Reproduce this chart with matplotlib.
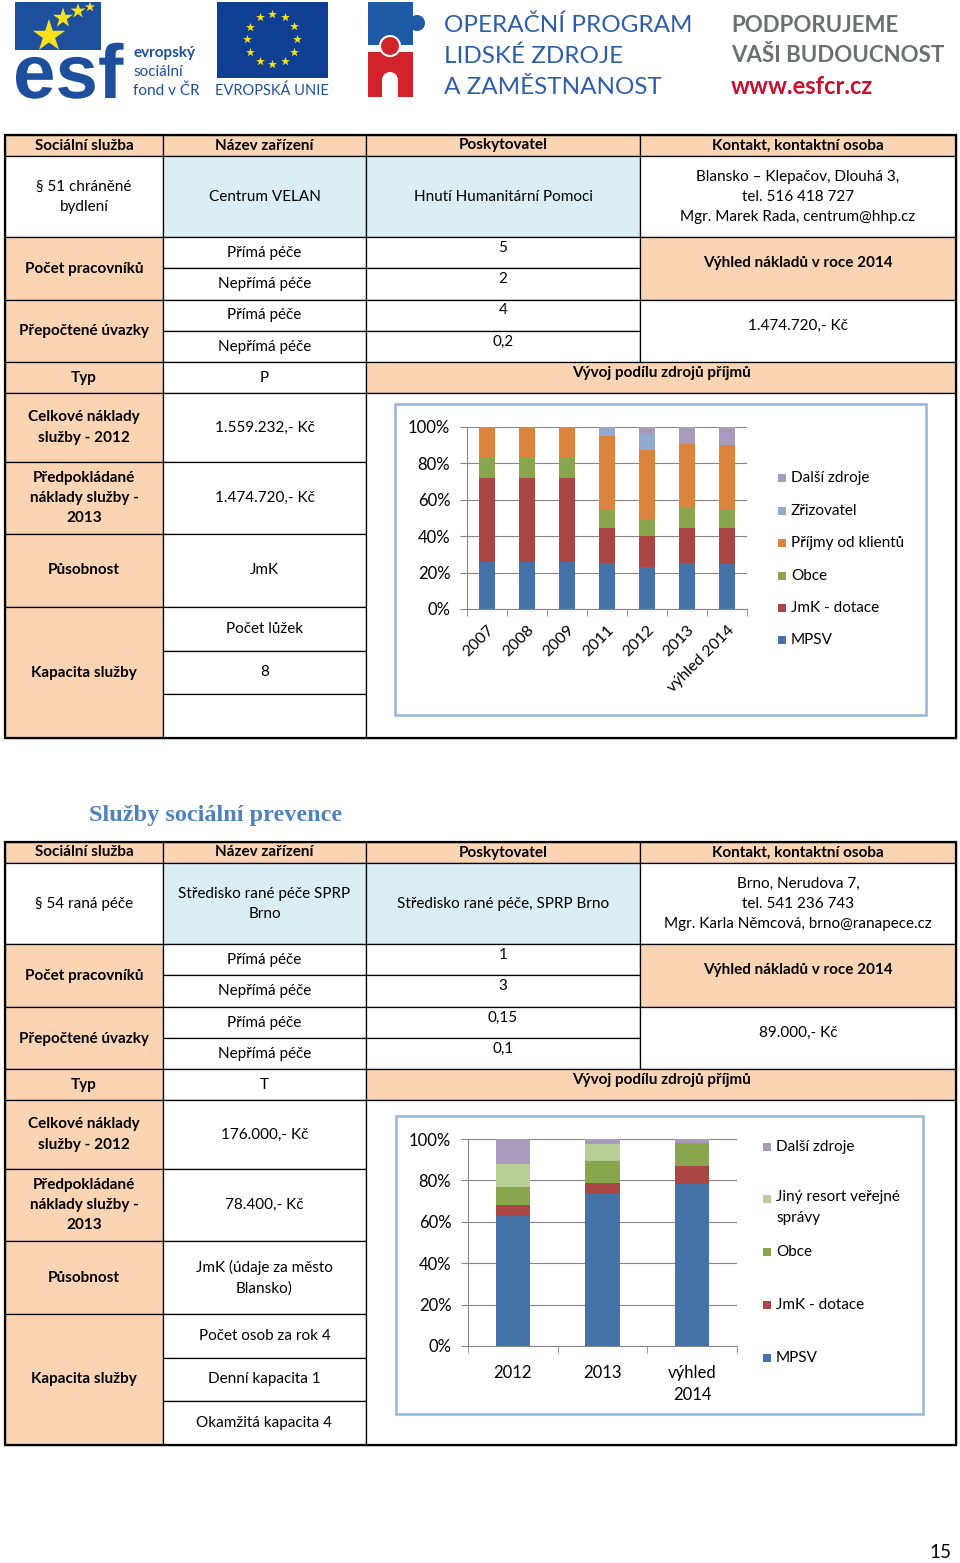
import matplotlib
matplotlib.use("Agg")
import matplotlib.pyplot as plt
from matplotlib.patches import Rectangle, Circle
import matplotlib.patheffects as pe
import numpy as np

plt.rcParams["font.family"] = ["Lato", "DejaVu Sans"]

ORANGE = "#FBD4B4"
BLUE_CELL = "#DAEEF3"
FRAME = "#95B3D7"
GRID = "#868686"

# --- data, chart 1 (chráněné bydlení) ---
years1 = ["2007", "2008", "2009", "2011", "2012", "2013", "výhled 2014"]
mpsv1 = [25.7, 25.7, 25.7, 25.0, 23.1, 25.0, 24.8]
jmk1 = [46.2, 46.2, 46.2, 19.6, 17.1, 19.6, 19.8]
obce1 = [11.4, 11.4, 11.4, 10.3, 9.5, 10.8, 9.9]
klienti1 = [16.7, 16.7, 16.7, 40.0, 37.5, 35.4, 35.4]
zrizovatel1 = [0, 0, 0, 5.1, 8.9, 0, 0]
dalsi1 = [0, 0, 0, 0, 3.9, 9.2, 10.1]
series1_names = ["MPSV", "JmK - dotace", "Obce", "Příjmy od klientů", "Zřizovatel", "Další zdroje"]
series1_colors = ["#4572A7", "#AA4643", "#89A54E", "#DB843D", "#93A9CF", "#A99BBD"]

# --- data, chart 2 (raná péče) ---
years2 = ["2012", "2013", "výhled\n2014"]
mpsv2 = [62.9, 73.7, 78.1]
jmk2 = [5.2, 5.0, 8.8]
obce2 = [8.8, 10.5, 11.3]
jiny2 = [11.2, 8.4, 0]
dalsi2 = [11.9, 2.4, 1.8]
series2_names = ["MPSV", "JmK - dotace", "Obce", "Jiný resort veřejné\nsprávy", "Další zdroje"]
series2_colors = ["#4572A7", "#AA4643", "#89A54E", "#B9CD96", "#A99BBD"]

pct_ticks = [0, 20, 40, 60, 80, 100]

# --- table texts ---
headers = ["Sociální služba", "Název zařízení", "Poskytovatel", "Kontakt, kontaktní osoba"]
table1 = {
    "sluzba": "§ 51 chráněné\nbydlení",
    "zarizeni": "Centrum VELAN",
    "poskytovatel": "Hnutí Humanitární Pomoci",
    "kontakt": "Blansko – Klepačov, Dlouhá 3,\ntel. 516 418 727\nMgr. Marek Rada, centrum@hhp.cz",
    "pracovnici": ["5", "2"],
    "uvazky": ["4", "0,2"],
    "vyhled": "1.474.720,- Kč",
    "typ": "P",
    "naklady2012": "1.559.232,- Kč",
    "naklady2013": "1.474.720,- Kč",
    "pusobnost": "JmK",
    "kapacita": ["Počet lůžek", "8", ""],
}
table2 = {
    "sluzba": "§ 54 raná péče",
    "zarizeni": "Středisko rané péče SPRP\nBrno",
    "poskytovatel": "Středisko rané péče, SPRP Brno",
    "kontakt": "Brno, Nerudova 7,\ntel. 541 236 743\nMgr. Karla Němcová, brno@ranapece.cz",
    "pracovnici": ["1", "3"],
    "uvazky": ["0,15", "0,1"],
    "vyhled": "89.000,- Kč",
    "typ": "T",
    "naklady2012": "176.000,- Kč",
    "naklady2013": "78.400,- Kč",
    "pusobnost": "JmK (údaje za město\nBlansko)",
    "kapacita": ["Počet osob za rok 4", "Denní kapacita 1", "Okamžitá kapacita 4"],
}

W, H = 960, 1563
fig = plt.figure(figsize=(W / 100, H / 100), dpi=100)
page = fig.add_axes([0, 0, 1, 1])
page.set_xlim(0, W)
page.set_ylim(H, 0)
page.axis("off")


def cell(x0, y0, x1, y1, fill="white", lw=0.9):
    page.add_patch(Rectangle((x0, y0), x1 - x0, y1 - y0, facecolor=fill,
                             edgecolor="black", lw=lw, zorder=1))


def txt(x, y, s, bold=False, size=11, **kw):
    page.text(x, y, s, ha=kw.pop("ha", "center"), va="center", fontsize=size,
              fontweight="bold" if bold else "normal", linespacing=1.55,
              zorder=3, **kw)


def draw_table(t, y0):
    c = [5, 163, 366, 640, 956]
    mid = [(c[i] + c[i + 1]) / 2 for i in range(4)]
    # header
    for i in range(4):
        cell(c[i], y0, c[i + 1], y0 + 21, ORANGE)
        txt(mid[i], y0 + 10.5, headers[i], bold=True)
    r = y0 + 21
    cell(c[0], r, c[1], r + 81)
    cell(c[1], r, c[2], r + 81, BLUE_CELL)
    cell(c[2], r, c[3], r + 81, BLUE_CELL)
    cell(c[3], r, c[4], r + 81)
    txt(mid[0], r + 41, t["sluzba"])
    txt(mid[1], r + 41, t["zarizeni"])
    txt(mid[2], r + 41, t["poskytovatel"])
    txt(mid[3], r + 41, t["kontakt"])
    # workers / FTE
    r = y0 + 102
    for k, (label, key) in enumerate([("Počet pracovníků", "pracovnici"),
                                      ("Přepočtené úvazky", "uvazky")]):
        ry = r + k * 62.5
        cell(c[0], ry, c[1], ry + 62.5, ORANGE)
        txt(mid[0], ry + 32, label, bold=True)
        for j, sub in enumerate(["Přímá péče", "Nepřímá péče"]):
            sy = ry + j * 31.25
            cell(c[1], sy, c[2], sy + 31.25)
            cell(c[2], sy, c[3], sy + 31.25)
            txt(mid[1], sy + 16, sub)
            txt(mid[2], sy + 11, t[key][j])
    cell(c[3], r, c[4], r + 62.5, ORANGE)
    txt(mid[3], r + 26, "Výhled nákladů v roce 2014", bold=True)
    cell(c[3], r + 62.5, c[4], r + 125)
    txt(mid[3], r + 89, t["vyhled"])
    # type row
    r = y0 + 227
    cell(c[0], r, c[1], r + 31, ORANGE)
    cell(c[1], r, c[2], r + 31)
    cell(c[2], r, c[4], r + 31, ORANGE)
    txt(mid[0], r + 16, "Typ", bold=True)
    txt(mid[1], r + 16, t["typ"])
    txt(661, r + 11, "Vývoj podílu zdrojů příjmů", bold=True)
    # lower block
    r = y0 + 258
    bounds = [r, r + 69, r + 141, r + 214, r + 345]
    labels = ["Celkové náklady\nslužby - 2012", "Předpokládané\nnáklady služby -\n2013",
              "Působnost", "Kapacita služby"]
    vals = [t["naklady2012"], t["naklady2013"], t["pusobnost"]]
    for i in range(4):
        cell(c[0], bounds[i], c[1], bounds[i + 1], ORANGE)
        txt(mid[0], (bounds[i] + bounds[i + 1]) / 2, labels[i], bold=True)
    for i in range(3):
        cell(c[1], bounds[i], c[2], bounds[i + 1])
        txt(mid[1], (bounds[i] + bounds[i + 1]) / 2, vals[i])
    step = (bounds[4] - bounds[3]) / 3
    for j in range(3):
        sy = bounds[3] + j * step
        cell(c[1], sy, c[2], sy + step)
        txt(mid[1], sy + step / 2, t["kapacita"][j])
    cell(c[2], bounds[0], c[4], bounds[4])
    page.add_patch(Rectangle((c[0], y0), c[4] - c[0], bounds[4] - y0, fill=False,
                             edgecolor="black", lw=1.6, zorder=2))


draw_table(table1, 135)
draw_table(table2, 842)

txt(89, 815, "Služby sociální prevence", bold=True, size=17.5, ha="left",
    color="#4F81BD", family="Liberation Serif")
txt(940, 1553, "15", size=13.5)

# --- logos ---
page.add_patch(Rectangle((15, 2), 86, 48, facecolor="#1D4F9C", lw=0, zorder=1))
page.text(13, 98, "esf", fontsize=55, fontweight="bold", color="#1D4F9C",
          family="Liberation Sans", va="baseline", ha="left", zorder=2,
          path_effects=[pe.withStroke(linewidth=3, foreground="white")])
page.scatter([49, 63, 78, 90], [36, 18, 11, 7], s=[600, 230, 130, 60], marker="*",
             color="#F5E11C", zorder=3, lw=0)
for i, s in enumerate(["evropský", "sociální", "fond v ČR"]):
    page.text(133, 53 + i * 19, s, fontsize=11, color="#1D4F9C",
              fontweight="bold" if i == 0 else "normal", va="center", zorder=3)
page.add_patch(Rectangle((217, 2), 111, 76, facecolor="#0E3F93", lw=0, zorder=1))
ang = np.arange(12) * np.pi / 6
page.scatter(272 + 25 * np.cos(ang), 39 + 25 * np.sin(ang), s=45, marker="*",
             color="#F5E11C", zorder=3, lw=0)
page.text(272, 91, "EVROPSKÁ UNIE", fontsize=10.5, color="#1D4F9C", ha="center",
          va="center", zorder=3)
page.add_patch(Rectangle((368, 2), 45, 43, facecolor="#1F5AA6", lw=0, zorder=1))
page.add_patch(Circle((417, 23), 8, facecolor="#1F5AA6", lw=0, zorder=1))
page.add_patch(Rectangle((368, 52), 45, 45, facecolor="#D2232A", lw=0, zorder=1))
page.add_patch(Circle((390, 46), 10, facecolor="#D2232A", edgecolor="white", lw=1.5, zorder=2))
page.add_patch(Circle((390, 80), 8, facecolor="white", lw=0, zorder=3))
page.add_patch(Rectangle((382, 80), 16, 17, facecolor="white", lw=0, zorder=3))
for i, s in enumerate(["OPERAČNÍ PROGRAM", "LIDSKÉ ZDROJE", "A ZAMĚSTNANOST"]):
    page.text(444, 25 + i * 31, s, fontsize=17.5, color="#2F5EA9",
              va="center", ha="left", zorder=3)
for i, s in enumerate(["PODPORUJEME", "VAŠI BUDOUCNOST"]):
    page.text(731, 25 + i * 31, s, fontsize=16, color="#6D6E70",
              fontweight="bold", va="center", ha="left", zorder=3)
page.text(731, 87, "www.esfcr.cz", fontsize=17, color="#C8102E",
          fontweight="bold", va="center", ha="left", zorder=3)


def chart(box, frame, series, names, colors, cats, legend_x, legend_ys, rot):
    x0, y0, x1, y1 = box
    page.add_patch(Rectangle((frame[0], frame[1]), frame[2] - frame[0],
                             frame[3] - frame[1], fill=False, edgecolor=FRAME,
                             lw=1.8, zorder=2))
    ax = fig.add_axes([x0 / W, 1 - y1 / H, (x1 - x0) / W, (y1 - y0) / H])
    ax.set_facecolor("none")
    pos = np.arange(len(cats))
    bottom = np.zeros(len(cats))
    for vals, col in zip(series, colors):
        ax.bar(pos, vals, width=0.38, bottom=bottom, color=col, zorder=2)
        bottom += np.array(vals)
    ax.set_xlim(-0.5, len(cats) - 0.5)
    ax.set_ylim(0, 100)
    ax.set_yticks(pct_ticks)
    ax.set_yticklabels([f"{v}%" for v in pct_ticks], fontsize=12)
    ax.yaxis.grid(True, color=GRID, lw=0.8, zorder=0)
    for s in ["top", "right"]:
        ax.spines[s].set_visible(False)
    for s in ["left", "bottom"]:
        ax.spines[s].set_color(GRID)
    ax.tick_params(axis="y", length=5, color=GRID, pad=7)
    ax.set_xticks(pos)
    if rot:
        ax.set_xticklabels(cats, fontsize=11.5, rotation=45, ha="right",
                           va="top", rotation_mode="anchor")
        ax.tick_params(axis="x", which="major", length=0, pad=10)
    else:
        ax.set_xticklabels(cats, fontsize=12, linespacing=1.45)
        ax.tick_params(axis="x", which="major", length=0, pad=14)
    ax.set_xticks(np.arange(len(cats) + 1) - 0.5, minor=True)
    ax.tick_params(axis="x", which="minor", length=5, color=GRID)
    # legend, top entry first
    for name, col, ly in zip(names[::-1], colors[::-1], legend_ys):
        page.add_patch(Rectangle((legend_x, ly - 4), 8, 8, facecolor=col, lw=0, zorder=3))
        page.text(legend_x + 13, ly + (-9 if "\n" in name else 0), name, fontsize=11,
                  va="top" if "\n" in name else "center", ha="left",
                  linespacing=1.6, zorder=3)
    return ax


chart((467, 427, 747, 609), (395, 404, 926, 715),
      [mpsv1, jmk1, obce1, klienti1, zrizovatel1, dalsi1],
      series1_names, series1_colors, years1, 778,
      [478, 511, 543, 576, 608, 640], True)
chart((468, 1139, 737, 1346), (396, 1116, 923, 1414),
      [mpsv2, jmk2, obce2, jiny2, dalsi2],
      series2_names, series2_colors, years2, 763,
      [1147, 1199, 1252, 1305, 1358], False)

fig.savefig("out.png", dpi=100)
